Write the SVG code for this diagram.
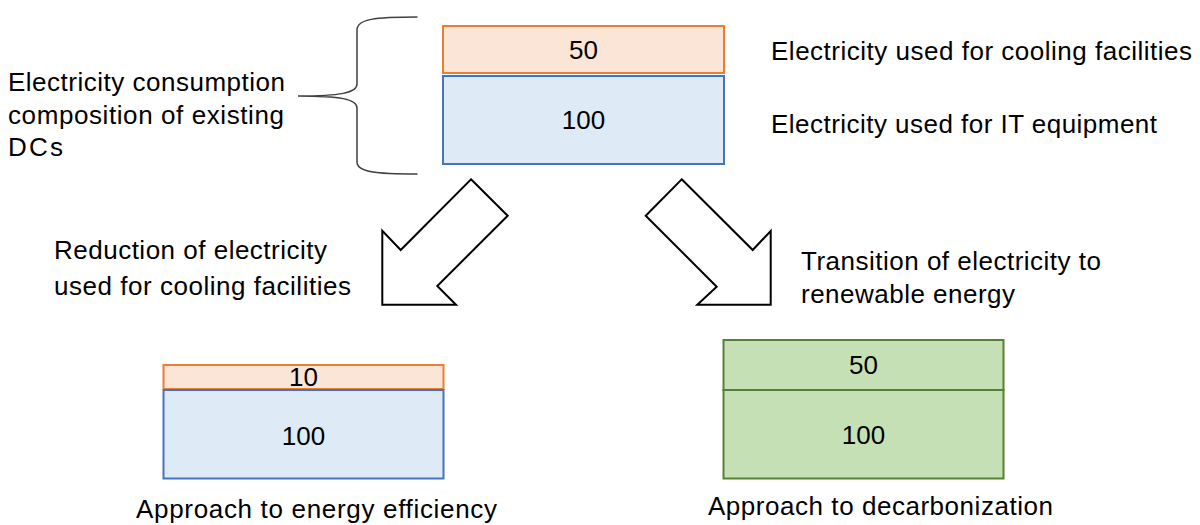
<svg xmlns="http://www.w3.org/2000/svg" width="1200" height="525" viewBox="0 0 1200 525">
<style>
text{font-family:"Liberation Sans",Arial,sans-serif;font-size:26px;fill:#000}
.c{text-anchor:middle}
.or{fill:#fbe5d6;stroke:#ed7d31;stroke-width:2}
.bl{fill:#deebf7;stroke:#4472c4;stroke-width:2}
.gr{fill:#c5e0b4;stroke:#548235;stroke-width:2}
.arr{fill:#fff;stroke:#000;stroke-width:2;stroke-linejoin:miter}
</style>
<rect width="1200" height="525" fill="#fff"/>
<g id="existing">
<rect class="or" x="443" y="26" width="281" height="47"/>
<text class="c" x="583.5" y="59">50</text>
<rect class="bl" x="443" y="76" width="281" height="88"/>
<text class="c" x="583.5" y="129">100</text>
</g>
<g id="brace">
<path d="M417.5 17 C375 17 357 19 357 30 L357 84 C357 93 340 96 298 96 C340 96 357 99 357 108 L357 162 C357 172 375 174 417.5 174" fill="none" stroke="#404040" stroke-width="1.5"/>
</g>
<g id="label-existing">
<text x="8" y="91" textLength="277" lengthAdjust="spacing">Electricity consumption</text>
<text x="8" y="124" textLength="276" lengthAdjust="spacing">composition of existing</text>
<text x="8" y="156" textLength="55" lengthAdjust="spacing">DCs</text>
</g>
<g id="label-cooling">
<text x="771" y="60" textLength="421" lengthAdjust="spacing">Electricity used for cooling facilities</text>
<text x="771" y="133" textLength="386" lengthAdjust="spacing">Electricity used for IT equipment</text>
</g>
<g id="connectors">
<polygon class="arr" points="471,179.3 507.7,215.7 437.3,286 456,304.7 382.3,304.7 382.3,230.7 400.7,250"/>
<polygon class="arr" points="681.7,179.3 752.7,250 770.7,231 770.7,304.7 697.3,304.7 716.7,286.7 645.7,215.7"/>
</g>
<g id="label-reduction">
<text x="54" y="259" textLength="273" lengthAdjust="spacing">Reduction of electricity</text>
<text x="54" y="295" textLength="297" lengthAdjust="spacing">used for cooling facilities</text>
</g>
<g id="label-transition">
<text x="801" y="270" textLength="300" lengthAdjust="spacing">Transition of electricity to</text>
<text x="801" y="303" textLength="214" lengthAdjust="spacing">renewable energy</text>
</g>
<g id="efficiency">
<rect class="or" x="163.5" y="365" width="280" height="24"/>
<text class="c" x="303.5" y="386">10</text>
<rect class="bl" x="163.5" y="390" width="280" height="88.5"/>
<text class="c" x="303.5" y="445">100</text>
<text x="136" y="518" textLength="361" lengthAdjust="spacing">Approach to energy efficiency</text>
</g>
<g id="decarbonization">
<rect class="gr" x="723.5" y="340" width="280" height="50"/>
<text class="c" x="863.5" y="374">50</text>
<rect class="gr" x="723.5" y="390" width="280" height="88.5"/>
<text class="c" x="863.5" y="444">100</text>
<text x="708" y="515" textLength="345" lengthAdjust="spacing">Approach to decarbonization</text>
</g>
</svg>
